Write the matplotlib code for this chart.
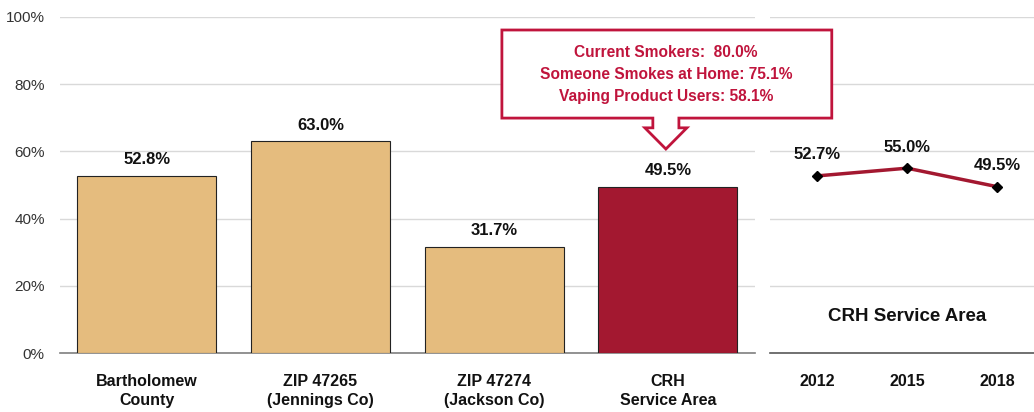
import matplotlib.pyplot as plt
from matplotlib.patches import Polygon

plt.rcParams['font.family'] = ['Liberation Sans', 'DejaVu Sans']

# Daten
areas = ["Bartholomew\nCounty", "ZIP 47265\n(Jennings Co)", "ZIP 47274\n(Jackson Co)", "CRH\nService Area"]
area_values = [52.8, 63.0, 31.7, 49.5]
years = ["2012", "2015", "2018"]
trend_values = [52.7, 55.0, 49.5]
callout_lines = ["Current Smokers:  80.0%", "Someone Smokes at Home: 75.1%", "Vaping Product Users: 58.1%"]

tan = "#E5BC7E"
crimson = "#A31830"
callout_red = "#C0143C"
grid_col = "#D9D9D9"

fig = plt.figure(figsize=(10.34, 4.12), dpi=100)
ax = fig.add_axes([0.058, 0.143, 0.672, 0.816])
ax2 = fig.add_axes([0.745, 0.143, 0.255, 0.816])
# linke Achse nach vorne, damit die Hinweisbox ueber dem rechten Teil liegt
ax.set_zorder(2)
ax.patch.set_visible(False)
ax2.patch.set_visible(False)

# Balken
colors = [tan, tan, tan, crimson]
x = list(range(len(areas)))
ax.bar(x, area_values, width=0.8, color=colors, edgecolor="#222222", linewidth=0.8, zorder=3)
for xi, v in zip(x, area_values):
    ax.text(xi, v + 2.5, f"{v:.1f}%", ha="center", va="bottom", fontsize=12, fontweight="bold", color="#111111")

ax.set_xlim(-0.5, 3.5)
ax.set_ylim(0, 100)
ax.set_yticks([0, 20, 40, 60, 80, 100])
ax.set_yticklabels([f"{t}%" for t in [0, 20, 40, 60, 80, 100]], fontsize=11, color="#333333")
ax.set_xticks(x)
ax.set_xticklabels(areas, fontsize=11.5, fontweight="bold", color="#111111", linespacing=1.3)
ax.tick_params(axis="both", length=0)
ax.tick_params(axis="x", pad=15)
ax.tick_params(axis="y", pad=11)
ax.yaxis.grid(True, color=grid_col, linewidth=1, zorder=0)
for s in ["top", "right", "left"]:
    ax.spines[s].set_visible(False)
ax.spines["bottom"].set_color("#7F7F7F")
ax.spines["bottom"].set_linewidth(1.2)

# Hinweisbox mit Pfeil
box = [(2.044, 96.1), (3.943, 96.1), (3.943, 69.9), (3.063, 69.9), (3.063, 67.0),
       (3.109, 67.0), (2.988, 60.7), (2.867, 67.0), (2.913, 67.0), (2.913, 69.9), (2.044, 69.9)]
ax.add_patch(Polygon(box, closed=True, facecolor="white", edgecolor=callout_red, linewidth=2,
                     clip_on=False, zorder=5))
for i, line in enumerate(callout_lines):
    ax.text(2.99, 89.4 - i * 6.6, line, ha="center", va="center", fontsize=11.2, fontweight="bold",
            color=callout_red, zorder=6, clip_on=False)

# Trend
xt = list(range(len(years)))
ax2.plot(xt, trend_values, color=crimson, linewidth=2.5, marker="D", markersize=5,
         markerfacecolor="black", markeredgecolor="black", zorder=3)
for xi, v in zip(xt, trend_values):
    ax2.text(xi, v + 4, f"{v:.1f}%", ha="center", va="bottom", fontsize=12, fontweight="bold", color="#111111")
ax2.text(1, 11, "CRH Service Area", ha="center", va="center", fontsize=13.5, fontweight="bold", color="#111111")
ax2.set_xlim(-0.52, 2.41)
ax2.set_ylim(0, 100)
ax2.set_yticks([0, 20, 40, 60, 80, 100])
ax2.set_yticklabels([])
ax2.set_xticks(xt)
ax2.set_xticklabels(years, fontsize=11.5, fontweight="bold", color="#111111")
ax2.tick_params(axis="both", length=0)
ax2.tick_params(axis="x", pad=15)
ax2.yaxis.grid(True, color=grid_col, linewidth=1, zorder=0)
for s in ["top", "right", "left"]:
    ax2.spines[s].set_visible(False)
ax2.spines["bottom"].set_color("#595959")
ax2.spines["bottom"].set_linewidth(1.2)

fig.savefig("out.png", dpi=100)
